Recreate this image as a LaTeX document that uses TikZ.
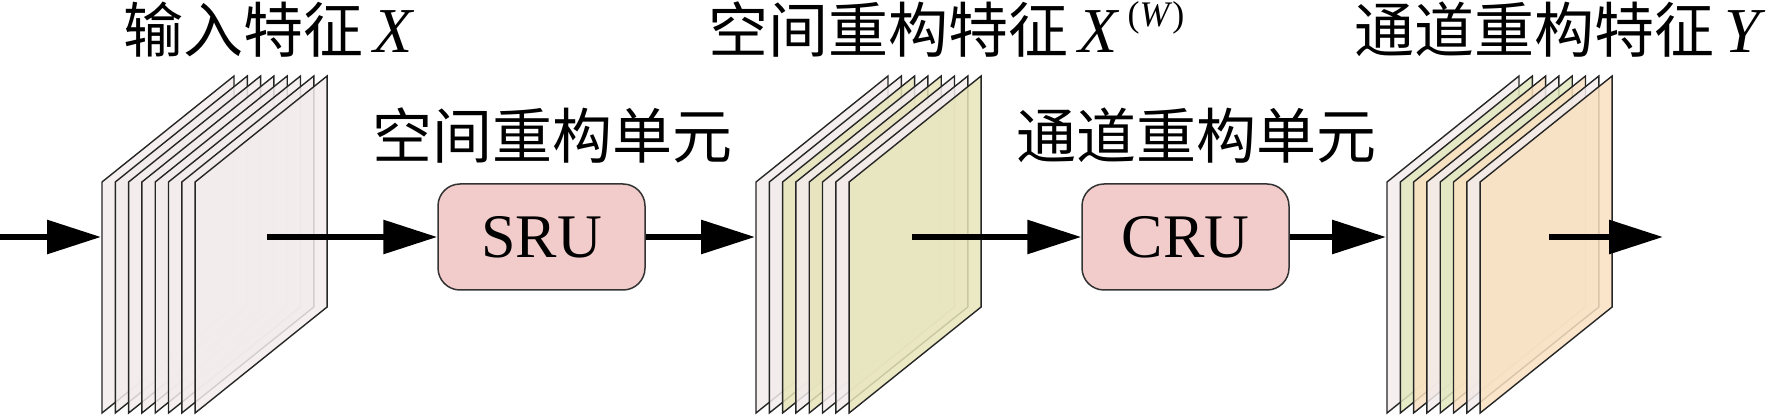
\documentclass[tikz,border=0pt]{standalone}
\usepackage{fontspec}
\setmainfont{Liberation Serif}
\newfontfamily\cjk{Noto Sans CJK SC}
\usetikzlibrary{arrows.meta}
\definecolor{sheetpink}{RGB}{243,236,236}
\definecolor{sheetyellow}{RGB}{231,228,186}
\definecolor{sheetgreen}{RGB}{226,231,190}
\definecolor{sheetorange}{RGB}{250,225,193}
\definecolor{boxpink}{RGB}{242,203,203}

\begin{document}
\begin{tikzpicture}[x=1pt,y=1pt,
  sheet/.style={draw=black!85,line width=1.4pt,fill opacity=0.85},
  unit/.style={shape=rectangle,rounded corners=22pt,draw=black!80,fill=boxpink,line width=1.5pt,minimum width=207pt,minimum height=106pt,font=\fontsize{62}{62}\selectfont},
  title/.style={anchor=base,inner sep=0pt,font=\cjk\fontsize{60}{60}\selectfont},
  arrow/.style={-{Triangle[length=54pt,width=33pt]},draw=black,line width=6pt}]
\useasboundingbox (0,0) rectangle (1768,415);

% input feature X
\draw[sheet,fill=sheetpink] (102.0,2) -- ++(0,231) -- ++(132,106) -- ++(0,-231) -- cycle;
\draw[sheet,fill=sheetpink] (115.3,2) -- ++(0,231) -- ++(132,106) -- ++(0,-231) -- cycle;
\draw[sheet,fill=sheetpink] (128.6,2) -- ++(0,231) -- ++(132,106) -- ++(0,-231) -- cycle;
\draw[sheet,fill=sheetpink] (141.9,2) -- ++(0,231) -- ++(132,106) -- ++(0,-231) -- cycle;
\draw[sheet,fill=sheetpink] (155.2,2) -- ++(0,231) -- ++(132,106) -- ++(0,-231) -- cycle;
\draw[sheet,fill=sheetpink] (168.5,2) -- ++(0,231) -- ++(132,106) -- ++(0,-231) -- cycle;
\draw[sheet,fill=sheetpink] (181.8,2) -- ++(0,231) -- ++(132,106) -- ++(0,-231) -- cycle;
\draw[sheet,fill=sheetpink] (195.1,2) -- ++(0,231) -- ++(132,106) -- ++(0,-231) -- cycle;

% spatial reconstructed feature
\draw[sheet,fill=sheetpink] (756.0,2) -- ++(0,231) -- ++(132,106) -- ++(0,-231) -- cycle;
\draw[sheet,fill=sheetpink] (769.3,2) -- ++(0,231) -- ++(132,106) -- ++(0,-231) -- cycle;
\draw[sheet,fill=sheetyellow] (782.6,2) -- ++(0,231) -- ++(132,106) -- ++(0,-231) -- cycle;
\draw[sheet,fill=sheetpink] (795.9,2) -- ++(0,231) -- ++(132,106) -- ++(0,-231) -- cycle;
\draw[sheet,fill=sheetyellow] (809.2,2) -- ++(0,231) -- ++(132,106) -- ++(0,-231) -- cycle;
\draw[sheet,fill=sheetpink] (822.5,2) -- ++(0,231) -- ++(132,106) -- ++(0,-231) -- cycle;
\draw[sheet,fill=sheetpink] (835.8,2) -- ++(0,231) -- ++(132,106) -- ++(0,-231) -- cycle;
\draw[sheet,fill=sheetyellow] (849.1,2) -- ++(0,231) -- ++(132,106) -- ++(0,-231) -- cycle;

% channel reconstructed feature Y
\draw[sheet,fill=sheetpink] (1387.0,2) -- ++(0,231) -- ++(132,106) -- ++(0,-231) -- cycle;
\draw[sheet,fill=sheetgreen] (1400.3,2) -- ++(0,231) -- ++(132,106) -- ++(0,-231) -- cycle;
\draw[sheet,fill=sheetorange] (1413.6,2) -- ++(0,231) -- ++(132,106) -- ++(0,-231) -- cycle;
\draw[sheet,fill=sheetpink] (1426.9,2) -- ++(0,231) -- ++(132,106) -- ++(0,-231) -- cycle;
\draw[sheet,fill=sheetgreen] (1440.2,2) -- ++(0,231) -- ++(132,106) -- ++(0,-231) -- cycle;
\draw[sheet,fill=sheetorange] (1453.5,2) -- ++(0,231) -- ++(132,106) -- ++(0,-231) -- cycle;
\draw[sheet,fill=sheetpink] (1466.8,2) -- ++(0,231) -- ++(132,106) -- ++(0,-231) -- cycle;
\draw[sheet,fill=sheetorange] (1480.1,2) -- ++(0,231) -- ++(132,106) -- ++(0,-231) -- cycle;

\node[unit] (0) at (541.5,178) {SRU};
\node[unit] (1) at (1185.5,178) {CRU};

\coordinate (2) at (0,178);
\coordinate (3) at (101,178);
\coordinate (4) at (267,178);
\coordinate (5) at (755,178);
\coordinate (6) at (912,178);
\coordinate (7) at (1386,178);
\coordinate (8) at (1549,178);
\coordinate (9) at (1663,178);

\node[title] (10) at (268.5,362) {输入特征\,{\rmfamily\itshape\fontsize{64}{64}\selectfont X}};
\node[title] (11) at (946.5,362) {空间重构特征\,{\rmfamily\itshape\fontsize{64}{64}\selectfont X}\hspace{10pt}{\rmfamily\fontsize{36}{36}\selectfont\raisebox{26pt}{(\textit{W})}}};
\node[title] (12) at (1557.5,362) {通道重构特征\,{\rmfamily\itshape\fontsize{64}{64}\selectfont Y}};
\node[title] (13) at (552.5,256) {空间重构单元};
\node[title] (14) at (1196,256) {通道重构单元};

\draw [arrow] (2) -- (3);
\draw [arrow] (4) -- (0);
\draw [arrow] (0) -- (5);
\draw [arrow] (6) -- (1);
\draw [arrow] (1) -- (7);
\draw [arrow] (8) -- (9);
\end{tikzpicture}
\end{document}
